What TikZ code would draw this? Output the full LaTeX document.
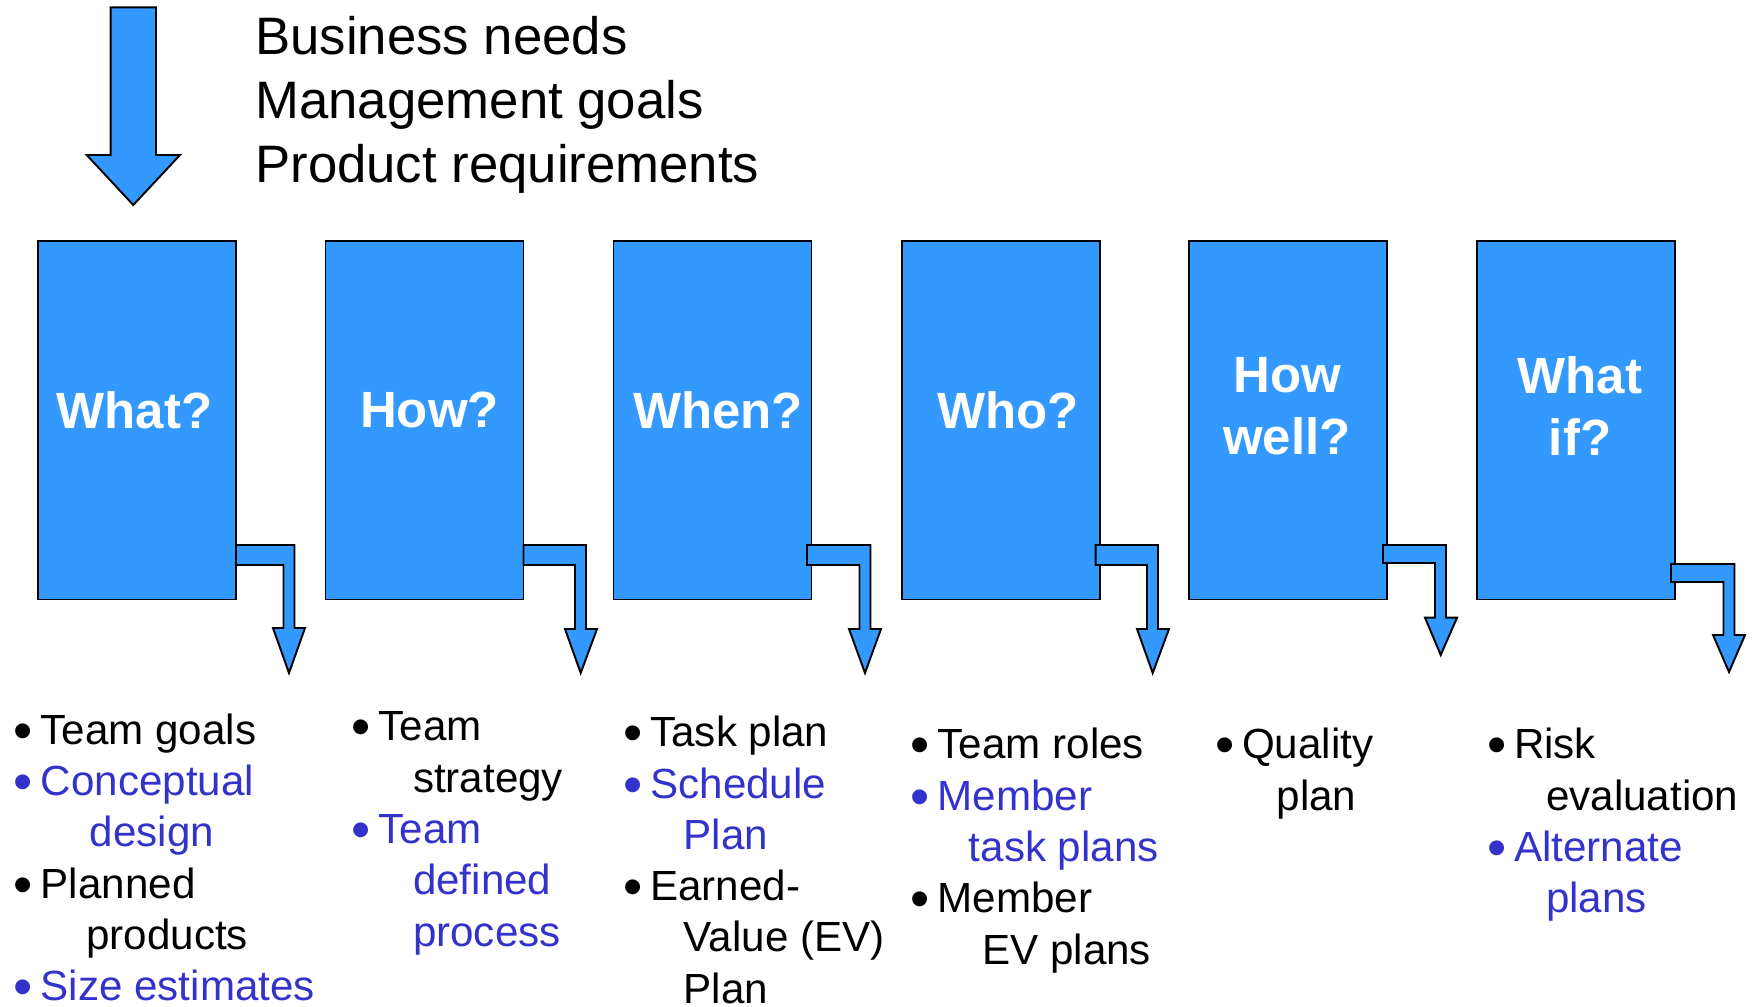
\documentclass[tikz,border=0pt]{standalone}
\usepackage{graphicx}
\usepackage{fontspec}
\setmainfont{Liberation Sans}
\definecolor{boxblue}{RGB}{51,153,255}
\definecolor{itemblue}{RGB}{51,51,204}
\newcommand{\bul}{\makebox[0.54cm][l]{\raisebox{-0.12em}{\scalebox{1.3}{\textbullet}}}}
\begin{document}
\begin{tikzpicture}[x=0.02cm, y=-0.02cm,
	tbox/.style={draw=black, line width=1.1pt, fill=boxblue, minimum width=3.96cm, minimum height=7.18cm, inner sep=0pt, outer sep=0pt},
	qlabel/.style={text=white, font=\bfseries\fontsize{29}{35}\selectfont, align=center, inner sep=0pt},
	barrow/.style={draw=black, line width=1.1pt, fill=boxblue, line join=miter},
	blist/.style={anchor=base west, inner sep=0pt, font=\fontsize{24}{29.2}\selectfont}]
		\useasboundingbox (0,0) rectangle (1754,1007);
		% input arrow and its text
		\draw[barrow] (110.7,7.3) -- (156,7.3) -- (156,155) -- (180,155) -- (133.3,205) -- (86.7,155) -- (110.7,155) -- cycle;
		\node[anchor=base west, inner sep=0pt, font=\fontsize{30}{36.2}\selectfont] (needs) at (255,54.8)
			{\begin{tabular}[t]{@{}l@{}}Business needs\\Management goals\\Product requirements\end{tabular}};
		% question boxes
		\node[tbox] (w1) at (137,420) {};
		\node[tbox] (w2) at (424.5,420) {};
		\node[tbox] (w3) at (712.5,420) {};
		\node[tbox] (w4) at (1000.6,420) {};
		\node[tbox] (w5) at (1288,420) {};
		\node[tbox] (w6) at (1576,420) {};
		\node[qlabel] (q1) at (134.5,410) {What?};
		\node[qlabel] (q2) at (429.5,410) {How?};
		\node[qlabel] (q3) at (718,410) {When?};
		\node[qlabel] (q4) at (1008,410) {Who?};
		\node[qlabel] (q5) at (1287,406) {How\\well?};
		\node[qlabel] (q6) at (1580,406) {What\\if?};
		% bent arrows
		\draw[barrow] (236,545) -- (294.5,545) -- (294.5,628) -- (305,628) -- (289,673) -- (273,628) -- (283.5,628) -- (283.5,565) -- (236,565) -- cycle;
		\draw[barrow] (523.5,545) -- (586,545) -- (586,629) -- (597,629) -- (580.7,673) -- (565,629) -- (575,629) -- (575,565) -- (523.5,565) -- cycle;
		\draw[barrow] (807,545) -- (870.5,545) -- (870.5,629) -- (881,629) -- (865,673) -- (849,629) -- (859.5,629) -- (859.5,565) -- (807,565) -- cycle;
		\draw[barrow] (1095.6,545) -- (1158,545) -- (1158,629) -- (1169,629) -- (1152.7,673) -- (1137,629) -- (1147,629) -- (1147,565) -- (1095.6,565) -- cycle;
		\draw[barrow] (1383,545) -- (1446,545) -- (1446,617.7) -- (1457,617.7) -- (1440.7,655) -- (1425,617.7) -- (1435,617.7) -- (1435,563) -- (1383,563) -- cycle;
		\draw[barrow] (1671,564) -- (1734.5,564) -- (1734.5,635) -- (1745,635) -- (1729,672) -- (1713,635) -- (1723.5,635) -- (1723.5,582) -- (1671,582) -- cycle;
		% outputs
		\node[blist] (o1) at (13.4,744.3) {\begin{tabular}[t]{@{}l@{}}
			\bul Team goals\\
			\color{itemblue}\bul Conceptual\\
			\color{itemblue}\hspace*{1.52cm}design\\
			\bul Planned\\
			\hspace*{1.45cm}products\\
			\color{itemblue}\bul Size estimates
		\end{tabular}};
		\node[blist] (o2) at (351.2,740.9) {\begin{tabular}[t]{@{}l@{}}
			\bul Team\\
			\hspace*{1.23cm}strategy\\
			\color{itemblue}\bul Team\\
			\color{itemblue}\hspace*{1.23cm}defined\\
			\color{itemblue}\hspace*{1.23cm}process
		\end{tabular}};
		\node[blist] (o3) at (623,746.7) {\begin{tabular}[t]{@{}l@{}}
			\bul Task plan\\
			\color{itemblue}\bul Schedule\\
			\color{itemblue}\hspace*{1.21cm}Plan\\
			\bul Earned-\\
			\hspace*{1.21cm}Value (EV)\\
			\hspace*{1.21cm}Plan
		\end{tabular}};
		\node[blist] (o4) at (910.5,758.9) {\begin{tabular}[t]{@{}l@{}}
			\bul Team roles\\
			\color{itemblue}\bul Member\\
			\color{itemblue}\hspace*{1.16cm}task plans\\
			\bul Member\\
			\hspace*{1.43cm}EV plans
		\end{tabular}};
		\node[blist] (o5) at (1214.8,758.9) {\begin{tabular}[t]{@{}l@{}}
			\bul Quality\\
			\hspace*{1.23cm}plan
		\end{tabular}};
		\node[blist] (o6) at (1486.7,758.9) {\begin{tabular}[t]{@{}l@{}}
			\bul Risk\\
			\hspace*{1.18cm}evaluation\\
			\color{itemblue}\bul Alternate\\
			\color{itemblue}\hspace*{1.18cm}plans
		\end{tabular}};
	\end{tikzpicture}
\end{document}
